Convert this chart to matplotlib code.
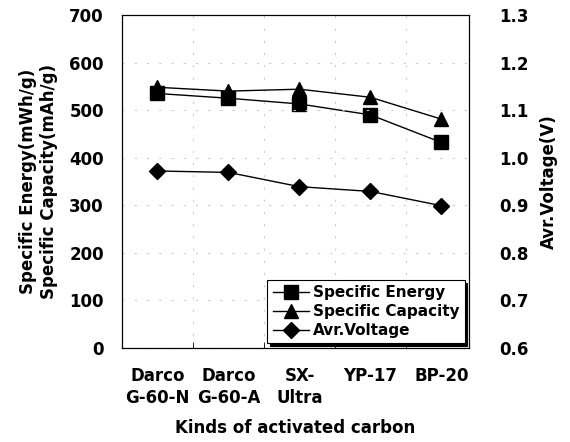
import matplotlib.pyplot as plt
import numpy as np

plt.rcParams["font.family"] = ["DejaVu Sans"]
plt.rcParams["font.weight"] = "bold"
plt.rcParams["axes.labelweight"] = "bold"

# Data
carbons = ["Darco\nG-60-N", "Darco\nG-60-A", "SX-\nUltra", "YP-17", "BP-20"]
energy = [535, 525, 513, 490, 432]
capacity = [548, 540, 544, 527, 481]
voltage = [0.972, 0.969, 0.939, 0.929, 0.899]

x = np.arange(len(carbons))

fig = plt.figure(figsize=(5.7, 4.42), dpi=100)
ax = fig.add_axes([0.214, 0.213, 0.609, 0.753])
ax2 = ax.twinx()

l1, = ax.plot(x, energy, color="black", lw=1, marker="s", markersize=10,
              label="Specific Energy")
l2, = ax.plot(x, capacity, color="black", lw=1, marker="^", markersize=10,
              label="Specific Capacity")
l3, = ax2.plot(x, voltage, color="black", lw=1, marker="D", markersize=8,
               label="Avr.Voltage")

ax.set_xlim(-0.49, 4.39)
ax.set_ylim(0, 700)
ax2.set_ylim(0.6, 1.3)
ax.set_yticks(np.arange(0, 701, 100))
ax2.set_yticks(np.arange(0.6, 1.31, 0.1))
ax2.set_yticklabels([f"{v:.1f}" for v in np.arange(0.6, 1.31, 0.1)])

ax.set_xticks(x)
ax.set_xticklabels(carbons, linespacing=1.3)
ax.set_xticks(np.arange(-0.5, 4.5, 1), minor=True)
ax.tick_params(axis="x", which="major", length=0, labelsize=12, pad=14)
ax.tick_params(axis="x", which="minor", direction="in", length=4)
ax.tick_params(axis="y", length=0, labelsize=12, pad=13)
ax2.tick_params(axis="y", length=0, labelsize=12, pad=22)

# faint dotted grid from the scan
ax.grid(True, which="minor", axis="x", color="#cccccc", ls=(0, (2, 9)), lw=0.8)
ax2.grid(True, axis="y", color="#cccccc", ls=(0, (2, 9)), lw=0.8)

ax.set_ylabel("Specific Energy(mWh/g)\nSpecific Capacity(mAh/g)",
              fontsize=12, fontweight="bold", labelpad=8, linespacing=1.2)
ax2.set_ylabel("Avr.Voltage(V)", fontsize=12, fontweight="bold", labelpad=8)
ax.set_xlabel("Kinds of activated carbon", fontsize=12, fontweight="bold",
              labelpad=8)

leg = ax2.legend(handles=[l1, l2, l3], loc="lower right", fontsize=11,
                 frameon=True, fancybox=False,
                 shadow={"color": "black", "alpha": 1},
                 handlelength=2.4, borderaxespad=0.3, handletextpad=0.2,
                 labelspacing=0.25, borderpad=0.35)
leg.get_frame().set_edgecolor("black")
leg.get_frame().set_linewidth(0.8)

fig.savefig("out.png", dpi=100)
